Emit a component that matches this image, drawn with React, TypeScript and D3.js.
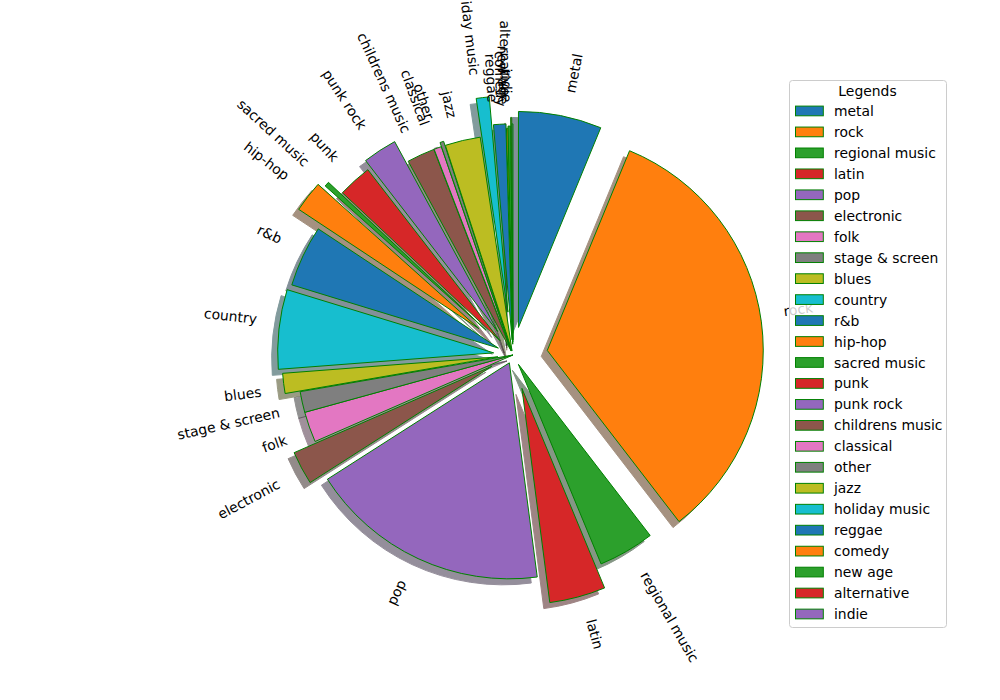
import React from 'react';
import * as d3 from 'd3';

const genres = [
  'metal', 'rock', 'regional music', 'latin', 'pop', 'electronic', 'folk',
  'stage & screen', 'blues', 'country', 'r&b', 'hip-hop', 'sacred music', 'punk',
  'punk rock', 'childrens music', 'classical', 'other', 'jazz', 'holiday music',
  'reggae', 'comedy', 'new age', 'alternative', 'indie',
];
const shares = [
  6.22, 33.33, 4.19, 4.19, 18.0, 2.5, 2.28, 1.56, 1.5, 5.94, 4.58, 2.33, 0.36, 2.53,
  2.56, 2.08, 0.56, 0.28, 2.64, 0.97, 0.92, 0.11, 0.19, 0.08, 0.08,
];
const explode = [
  0.13, 0.16, 0.05, 0.16, 0.04, 0.11, 0, 0, 0.07, 0.09, 0.075, 0.2, 0.17, 0.09,
  0.13, 0.02, 0.02, 0.04, 0.02, 0.2, 0.07, 0.05, 0.06, 0.1, 0.07,
];
const legendTitle = 'Legends';

const W = 1000;
const H = 700;
const cx = 513;
const cy = 355;
const R = 216;
const FS = 13.9;
const font = 'DejaVu Sans, sans-serif';
const palette = ['#1f77b4', '#ff7f0e', '#2ca02c', '#d62728', '#9467bd', '#8c564b', '#e377c2', '#7f7f7f', '#bcbd22', '#17becf'];

let ctx: CanvasRenderingContext2D | null = null;
function textWidth(s: string): number {
  if (!ctx && typeof document !== 'undefined') {
    ctx = document.createElement('canvas').getContext('2d');
  }
  if (!ctx) return s.length * FS * 0.6;
  ctx.font = `${FS}px "DejaVu Sans"`;
  return ctx.measureText(s).width;
}

export default function App() {
  const pie = d3.pie<number>().sort(null).value((d) => d).startAngle(0).endAngle(2 * Math.PI);
  const arcs = pie(shares);
  const arcGen = d3.arc<any>().innerRadius(0).outerRadius(R);
  const asc = 0.76 * FS;
  const desc = 0.208 * FS;

  const items = arcs.map((a, i) => {
    const mid = (a.startAngle + a.endAngle) / 2;
    const e = explode[i] * R;
    const ex = cx + e * Math.sin(mid);
    const ey = cy - e * Math.cos(mid);
    const lx = ex + 1.1 * R * Math.sin(mid);
    const ly = ey - 1.1 * R * Math.cos(mid);
    const phi = 90 - (mid * 180) / Math.PI;
    const right = lx > cx;
    const upper = ly < cy;
    const rot = right ? phi : phi + 180;
    // matplotlib default rotation_mode: rotate first, then align the rotated bbox
    const r = (rot * Math.PI) / 180;
    const w = textWidth(genres[i]);
    const corners = [[0, -desc], [w, -desc], [w, asc], [0, asc]].map(([u, v]) => [
      u * Math.cos(r) - v * Math.sin(r),
      u * Math.sin(r) + v * Math.cos(r),
    ]);
    const xs = corners.map((p) => p[0]);
    const ys = corners.map((p) => p[1]);
    const offx = right ? Math.min(...xs) : Math.max(...xs);
    const offy = upper ? Math.min(...ys) : Math.max(...ys);
    const ox = lx - offx;
    const oy = ly + offy;
    const color = palette[i % 10];
    const c = d3.rgb(color);
    const shadow = d3.rgb(c.r * 0.3, c.g * 0.3, c.b * 0.3).formatHex();
    return { a, i, ex, ey, ox, oy, rot, color, shadow, path: arcGen(a) as string };
  });

  const legX = 789;
  const legY = 80;
  const legW = 157;
  const legH = 547;
  const row0 = 111;
  const rowH = 20.96;

  return (
    <svg width={W} height={H} style={{ position: 'absolute', left: 0, top: 0, background: '#fff' }} fontFamily={font}>
      <rect x={0} y={0} width={W} height={H} fill="#fff" />
      {items.map((it) => (
        <path key={'s' + it.i} d={it.path} transform={`translate(${it.ex - 6},${it.ey + 6})`}
          fill={it.shadow} stroke={it.shadow} strokeWidth={1} opacity={0.5} />
      ))}
      {items.map((it) => (
        <path key={'w' + it.i} d={it.path} transform={`translate(${it.ex},${it.ey})`}
          fill={it.color} stroke="green" strokeWidth={1} strokeLinejoin="miter" />
      ))}
      {items.map((it) => (
        <text key={'l' + it.i} transform={`translate(${it.ox},${it.oy}) rotate(${-it.rot})`}
          fontSize={FS} fill="#000">
          {genres[it.i]}
        </text>
      ))}
      <g>
        <rect x={legX + 0.5} y={legY + 0.5} width={legW} height={legH} rx={3} ry={3}
          fill="#fff" fillOpacity={0.8} stroke="#cccccc" strokeWidth={1} />
        <text x={legX + legW / 2} y={91} textAnchor="middle" dominantBaseline="central" fontSize={FS} fill="#000">
          {legendTitle}
        </text>
        {genres.map((g, i) => (
          <g key={'g' + i}>
            <rect x={795.5} y={row0 + i * rowH - 4.9} width={27.8} height={9.7}
              fill={palette[i % 10]} stroke="green" strokeWidth={1} />
            <text x={834} y={row0 + i * rowH} dominantBaseline="central" fontSize={FS} fill="#000">{g}</text>
          </g>
        ))}
      </g>
    </svg>
  );
}
